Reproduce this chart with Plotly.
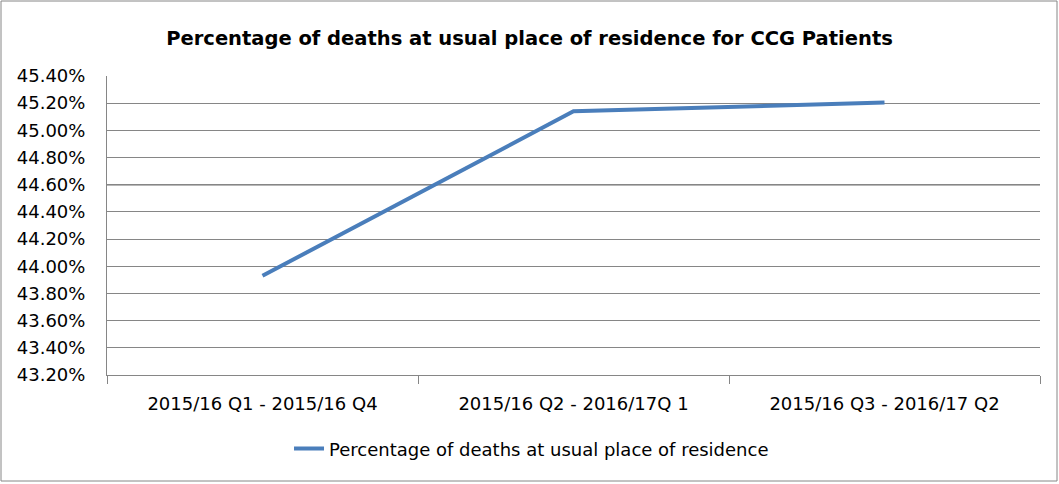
import plotly.graph_objects as go

categories = ["2015/16 Q1 - 2015/16 Q4", "2015/16 Q2 - 2016/17Q 1", "2015/16 Q3 - 2016/17 Q2"]
values = [43.93, 45.14, 45.205]
series_name = "Percentage of deaths at usual place of residence"
title = "Percentage of deaths at usual place of residence for CCG Patients"

GRID = "#868686"

fig = go.Figure()
fig.add_trace(go.Scatter(
    x=categories, y=values, mode="lines", name=series_name,
    line=dict(color="#4a7ebb", width=4),
))

fig.update_layout(
    width=1059, height=484,
    paper_bgcolor="white", plot_bgcolor="white",
    margin=dict(l=107, r=19, t=76, b=109, autoexpand=False),
    title=dict(text="<b>" + title + "</b>", x=0.5, xanchor="center", y=0.922, yanchor="middle",
               font=dict(family="DejaVu Sans", size=19.5, color="black")),
    showlegend=True,
    legend=dict(orientation="h", x=0.455, xanchor="center", y=-0.247, yanchor="middle",
                font=dict(family="DejaVu Sans", size=18, color="black")),
    xaxis=dict(
        type="category", range=[-0.5, 2.5], showgrid=False, showline=True, linecolor=GRID, linewidth=1,
        ticks="outside", tickson="boundaries", ticklen=8, tickcolor=GRID,
        ticklabelstandoff=12,
        tickfont=dict(family="DejaVu Sans", size=18, color="black"),
    ),
    yaxis=dict(
        range=[43.2, 45.4], dtick=0.2, tick0=43.2, tickformat=".2f", ticksuffix="%",
        showgrid=True, gridcolor=GRID, gridwidth=1, zeroline=False,
        showline=True, linecolor=GRID, linewidth=1,
        ticklabelstandoff=17,
        tickfont=dict(family="DejaVu Sans", size=18, color="black"),
    ),
    shapes=[
        dict(type="rect", xref="paper", yref="paper", x0=-106/933, x1=(933+17)/933,
             y0=-106/299, y1=(299+75)/299, line=dict(color=GRID, width=1)),
        dict(type="line", xref="paper", yref="y", x0=0, x1=1, y0=44.6, y1=44.6,
             line=dict(color="#707070", width=1.6), layer="below"),
    ],
)

fig.write_html("out.html", config={"displayModeBar": False},
               post_script="document.body.style.margin='0px';document.body.style.padding='0px';")
